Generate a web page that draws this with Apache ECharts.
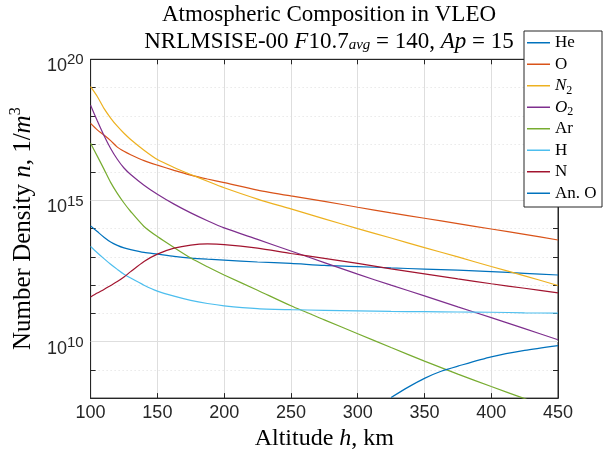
<!DOCTYPE html>
<html>
<head>
<meta charset="utf-8">
<script src="https://cdn.jsdelivr.net/npm/echarts@6/dist/echarts.min.js"></script>
<style>
  html, body { margin: 0; padding: 0; background: #fff; }
  #chart { width: 608px; height: 456px; }
</style>
</head>
<body>
<div id="chart"></div>
<script>
// Altitude grid (km) shared by most species
const altitude = [100, 105, 110, 115, 120, 125, 130, 140, 150, 162.5, 175, 187.5,
                  200, 225, 250, 275, 300, 325, 350, 375, 400, 425, 450];

// Number densities, 1/m^3
const He = [1.26e14, 7.94e13, 5.01e13, 3.39e13, 2.57e13, 2.09e13, 1.82e13, 1.45e13, 1.26e13, 1.05e13, 9.12e12, 8.32e12,
            7.76e12, 6.61e12, 5.89e12, 5.01e12, 4.57e12, 4.07e12, 3.72e12, 3.39e12, 3.02e12, 2.63e12, 2.29e12];
const O  = [5.37e17, 3.16e17, 2.09e17, 1.32e17, 7.76e16, 5.50e16, 4.17e16, 2.57e16, 1.78e16, 1.17e16, 7.94e15, 5.75e15,
            4.27e15, 2.34e15, 1.45e15, 9.33e14, 5.75e14, 3.63e14, 2.34e14, 1.51e14, 9.77e13, 6.31e13, 3.98e13];
const N2 = [1.07e19, 4.79e18, 1.82e18, 8.32e17, 4.27e17, 2.40e17, 1.45e17, 6.03e16, 2.82e16, 1.48e16, 8.32e15, 4.79e15,
            2.82e15, 1.12e15, 5.01e14, 2.24e14, 1.00e14, 4.68e13, 2.14e13, 1.00e13, 4.57e12, 2.14e12, 9.77e11];
const O2 = [2.34e18, 6.61e17, 2.00e17, 6.92e16, 2.88e16, 1.41e16, 8.32e15, 3.47e15, 1.66e15, 7.41e14, 3.63e14, 1.91e14,
            1.07e14, 4.17e13, 1.62e13, 6.31e12, 2.45e12, 1.00e12, 4.17e11, 1.70e11, 7.08e10, 2.88e10, 1.17e10];
const Ar = [1.07e17, 3.72e16, 1.29e16, 4.37e15, 1.78e15, 8.13e14, 4.07e14, 1.20e14, 5.25e13, 2.14e13, 9.12e12, 4.47e12,
            2.29e12, 6.61e11, 1.86e11, 5.89e10, 1.91e10, 6.17e9, 2.04e9, 7.08e8, 2.57e8, 9.55e7, 3.55e7];
const H  = [2.34e13, 1.41e13, 8.71e12, 5.50e12, 3.63e12, 2.45e12, 1.78e12, 1.00e12, 6.17e11, 4.07e11, 2.88e11, 2.24e11,
            1.86e11, 1.48e11, 1.35e11, 1.29e11, 1.23e11, 1.17e11, 1.15e11, 1.12e11, 1.10e11, 1.05e11, 1.02e11];
const N  = [3.80e11, 5.25e11, 7.08e11, 9.77e11, 1.35e12, 1.95e12, 3.02e12, 6.92e12, 1.26e13, 2.04e13, 2.63e13, 2.88e13,
            2.75e13, 2.04e13, 1.32e13, 8.91e12, 5.89e12, 3.80e12, 2.51e12, 1.66e12, 1.12e12, 7.76e11, 5.37e11];

// Anomalous oxygen only rises above the plotted floor at high altitude
const altitudeAnO = [325, 337.5, 350, 362.5, 375, 400, 425, 450];
const AnO = [1.05e8, 2.40e8, 5.01e8, 8.91e8, 1.35e9, 2.88e9, 4.90e9, 7.24e9];

// Axis ticks
const xTicks = [100, 150, 200, 250, 300, 350, 400, 450];
const yMajorExponents = [10, 15, 20];

const species = [
  { name: 'He',    x: altitude,    y: He,  color: '#0072BD' },
  { name: 'O',     x: altitude,    y: O,   color: '#D95319' },
  { name: 'N2',    x: altitude,    y: N2,  color: '#EDB120' },
  { name: 'O2',    x: altitude,    y: O2,  color: '#7E2F8E' },
  { name: 'Ar',    x: altitude,    y: Ar,  color: '#77AC30' },
  { name: 'H',     x: altitude,    y: H,   color: '#4DBEEE' },
  { name: 'N',     x: altitude,    y: N,   color: '#A2142F' },
  { name: 'An. O', x: altitudeAnO, y: AnO, color: '#0072BD' }
];

const SERIF = "'Liberation Serif', 'DejaVu Serif', serif";
const SANS = "'Liberation Sans', Arial, Helvetica, sans-serif";
const AX = '#262626';
const GRID = '#dedede';

const legendLabels = {
  'He': '{n|He}',
  'O': '{n|O}',
  'N2': '{i|N}{sub|2}',
  'O2': '{i|O}{sub|2}',
  'Ar': '{n|Ar}',
  'H': '{n|H}',
  'N': '{n|N}',
  'An. O': '{n|An. O}'
};

const series = species.map(s => ({
  name: s.name,
  type: 'line',
  z: 10,
  showSymbol: false,
  symbol: 'none',
  smooth: 0.25,
  clip: true,
  lineStyle: { color: s.color, width: 1.2 },
  itemStyle: { color: s.color },
  data: s.x.map((h, i) => [h, s.y[i]])
}));

// solid grid lines at the labelled decades
series.push({
  type: 'line',
  name: '_major',
  data: [],
  z: 1,
  silent: true,
  markLine: {
    silent: true,
    symbol: 'none',
    label: { show: false },
    lineStyle: { color: GRID, type: 'solid', width: 1 },
    data: yMajorExponents.slice(0, 2).map(e => ({ yAxis: Math.pow(10, e) }))
  }
});

const chart = echarts.init(document.getElementById('chart'), null, { renderer: 'canvas' });

const titleRich = {
  n: { fontFamily: SERIF, fontSize: 23, fontWeight: 'normal', color: '#000', lineHeight: 27, verticalAlign: 'bottom' },
  i: { fontFamily: SERIF, fontSize: 23, fontWeight: 'normal', fontStyle: 'italic', color: '#000', lineHeight: 27, verticalAlign: 'bottom' },
  sub: { fontFamily: SERIF, fontSize: 15, fontWeight: 'normal', fontStyle: 'italic', color: '#000', lineHeight: 15, verticalAlign: 'bottom' }
};

chart.setOption({
  animation: false,
  backgroundColor: '#fff',
  title: {
    left: 324,
    top: -6,
    textAlign: 'center',
    text: '{n|Atmospheric Composition in VLEO}\n' +
          '{n|NRLMSISE-00 }{i|F}{n|10.7}{sub|avg}{n| = 140, }{i|Ap}{n| = 15}',
    textStyle: { fontWeight: 'normal', rich: titleRich }
  },
  grid: {
    left: 89.5, top: 59.3, right: 50, bottom: 54.3,
    show: true, borderColor: AX, borderWidth: 1, backgroundColor: 'transparent'
  },
  legend: {
    orient: 'vertical',
    left: 527,
    top: 32,
    padding: 0,
    itemGap: 0,
    itemWidth: 23,
    itemHeight: 1.5,
    icon: 'rect',
    z: 20,
    data: species.map(s => s.name),
    formatter: name => legendLabels[name],
    textStyle: {
      lineHeight: 21.5,
      rich: {
        n: { fontFamily: SERIF, fontSize: 17, color: '#000', lineHeight: 21.5 },
        i: { fontFamily: SERIF, fontSize: 17, fontStyle: 'italic', color: '#000', lineHeight: 21.5 },
        sub: { fontFamily: SERIF, fontSize: 12, color: '#000', lineHeight: 12, verticalAlign: 'bottom', padding: [6, 0, 0, 0] }
      }
    }
  },
  graphic: [{
    type: 'rect',
    z: 15,
    shape: { x: 524, y: 31, width: 78, height: 176 },
    style: { fill: '#fff', stroke: AX, lineWidth: 1 }
  }],
  xAxis: [{
    type: 'value',
    min: xTicks[0],
    max: xTicks[xTicks.length - 1],
    interval: 50,
    name: '{n|Altitude }{i|h}{n|, km}',
    nameLocation: 'middle',
    nameGap: 23,
    nameTextStyle: {
      rich: {
        n: { fontFamily: SERIF, fontSize: 24, color: '#000' },
        i: { fontFamily: SERIF, fontSize: 24, fontStyle: 'italic', color: '#000' }
      }
    },
    axisLine: { show: true, lineStyle: { color: AX, width: 1 } },
    axisTick: { show: true, inside: true, length: 5, lineStyle: { color: AX } },
    axisLabel: { color: AX, fontFamily: SANS, fontSize: 18, margin: 6 },
    splitLine: { show: true, lineStyle: { color: GRID, width: 1, type: 'solid' } }
  }, {
    type: 'value',
    position: 'top',
    min: xTicks[0],
    max: xTicks[xTicks.length - 1],
    interval: 50,
    axisLine: { show: true, lineStyle: { color: AX, width: 1 } },
    axisTick: { show: true, inside: true, length: 5, lineStyle: { color: AX } },
    axisLabel: { show: false },
    splitLine: { show: false }
  }],
  yAxis: [{
    type: 'log',
    logBase: 10,
    min: 1e8,
    max: 1e20,
    interval: 1,
    name: '{n|Number Density }{i|n}{n|, 1/}{i|m}{sup|3}',
    nameLocation: 'middle',
    nameGap: 50,
    nameTextStyle: {
      rich: {
        n: { fontFamily: SERIF, fontSize: 25, color: '#000', lineHeight: 28, verticalAlign: 'bottom' },
        i: { fontFamily: SERIF, fontSize: 25, fontStyle: 'italic', color: '#000', lineHeight: 28, verticalAlign: 'bottom' },
        sup: { fontFamily: SERIF, fontSize: 16, color: '#000', lineHeight: 16, verticalAlign: 'top' }
      }
    },
    axisLine: { show: true, lineStyle: { color: AX, width: 1 } },
    axisTick: { show: true, inside: true, length: 5, lineStyle: { color: AX } },
    axisLabel: {
      margin: 7,
      padding: [2, 0, 0, 0],
      formatter: v => {
        const e = Math.round(Math.log10(v));
        return yMajorExponents.includes(e) ? '{b|10}{s|' + e + '}' : '';
      },
      rich: {
        b: { fontFamily: SANS, fontSize: 18, color: AX, lineHeight: 30, verticalAlign: 'bottom' },
        s: { fontFamily: SANS, fontSize: 15, color: AX, lineHeight: 20 }
      }
    },
    splitLine: { show: true, lineStyle: { color: GRID, width: 1, type: [1, 3] } }
  }, {
    type: 'log',
    logBase: 10,
    position: 'right',
    min: 1e8,
    max: 1e20,
    interval: 1,
    axisLine: { show: true, lineStyle: { color: AX, width: 1 } },
    axisTick: { show: true, inside: true, length: 5, lineStyle: { color: AX } },
    axisLabel: { show: false },
    splitLine: { show: false }
  }],
  series: series
});
</script>
</body>
</html>
